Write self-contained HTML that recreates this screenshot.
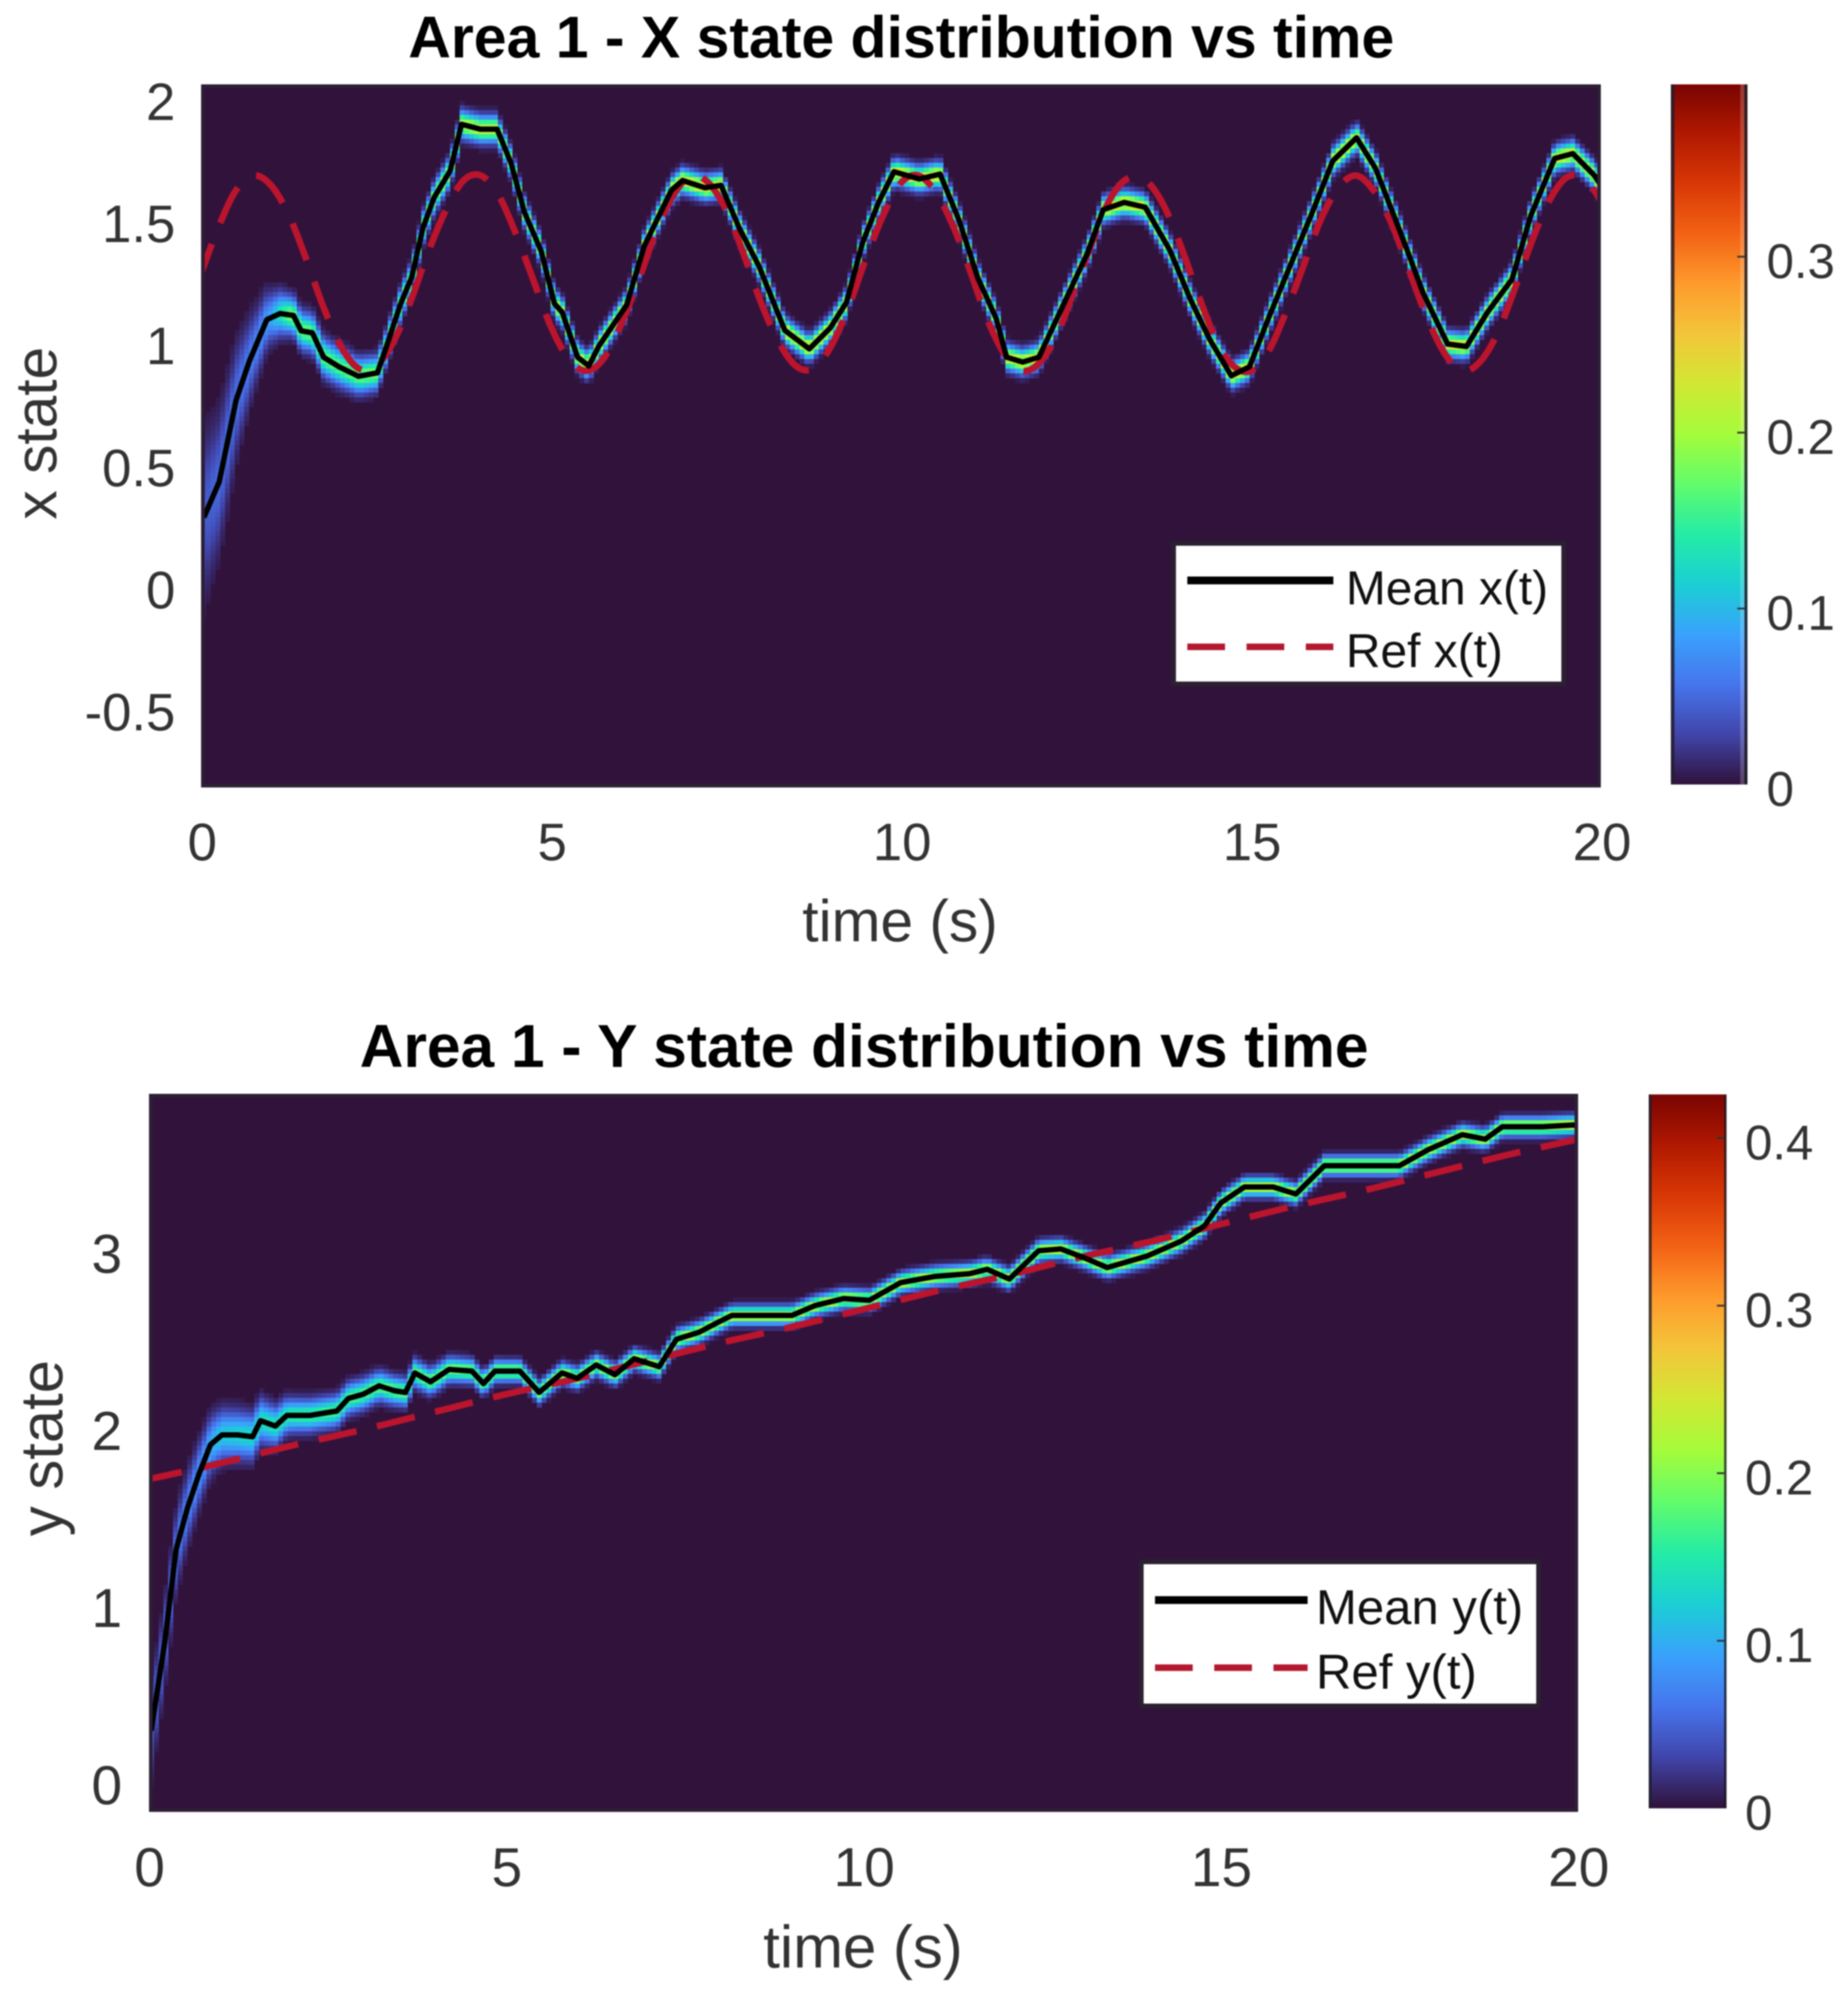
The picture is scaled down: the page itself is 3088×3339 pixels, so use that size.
<!DOCTYPE html>
<html>
<head>
<meta charset="utf-8">
<title>Area 1 state distributions</title>
<style>
html,body{margin:0;padding:0;background:#fff;}
svg{display:block;filter:blur(1.1px);}
text{font-family:"Liberation Sans",Arial,sans-serif;}
.tick{font-size:90px;fill:#333;}
.cb{font-size:82px;fill:#333;}
.lab{font-size:98px;fill:#333;}
.title{font-size:98.5px;font-weight:bold;fill:#000;}
.leg{font-size:80px;fill:#111;}
</style>
</head>
<body>
<svg id="fig" xmlns="http://www.w3.org/2000/svg" width="3088" height="3339" viewBox="0 0 3088 3339">
  <defs>
    <clipPath id="clipX"><rect x="336" y="141" width="2339" height="1175"/></clipPath>
    <clipPath id="clipY"><rect x="249" y="1828" width="2388" height="1200"/></clipPath>
    <linearGradient id="turboGrad" x1="0" y1="1" x2="0" y2="0"></linearGradient>
  </defs>
  <rect x="0" y="0" width="3088" height="3339" fill="#fff"/>

  <text class="title" x="1506" y="96" text-anchor="middle">Area 1 - X state distribution vs time</text>
  <rect x="336" y="141" width="2339" height="1175" fill="#31123b"/>
  <g id="cellsX" clip-path="url(#clipX)"></g>
  <g id="linesX" clip-path="url(#clipX)"></g>
  <rect x="339" y="144" width="2333" height="1169" fill="none" stroke="#2c1f34" stroke-width="6"/>
  <g id="ticksX"></g>
  <text class="lab" x="1504" y="1573" text-anchor="middle">time (s)</text>
  <text class="lab" transform="translate(94 724) rotate(-90)" text-anchor="middle">x state</text>

  <g>
    <rect x="1961" y="908" width="652" height="235" fill="#fff" stroke="#2a2030" stroke-width="8"/>
    <line x1="1984" y1="970" x2="2228" y2="970" stroke="#000" stroke-width="13"/>
    <line x1="1984" y1="1081" x2="2228" y2="1081" stroke="#b4182f" stroke-width="11" stroke-dasharray="63 36"/>
    <text class="leg" x="2249" y="1010">Mean x(t)</text>
    <text class="leg" x="2249" y="1115">Ref x(t)</text>
  </g>

  <rect x="2792" y="141" width="128" height="1170" fill="url(#turboGrad)"/>
  <rect x="2792" y="141" width="6" height="1170" fill="#231f2b" opacity="0.85"/>
  <rect x="2908" y="141" width="7" height="1170" fill="#fff" opacity="0.2"/>
  <rect x="2915" y="141" width="5" height="1170" fill="#1a1a22" opacity="0.85"/>
  <g id="cbX"></g>

  <text class="title" x="1444" y="1783" text-anchor="middle" style="font-size:101px">Area 1 - Y state distribution vs time</text>
  <rect x="249" y="1828" width="2388" height="1200" fill="#31123b"/>
  <g id="cellsY" clip-path="url(#clipY)"></g>
  <g id="linesY" clip-path="url(#clipY)"></g>
  <rect x="252" y="1831" width="2382" height="1194" fill="none" stroke="#2c1f34" stroke-width="6"/>
  <g id="ticksY"></g>
  <text class="lab" x="1442" y="3288" text-anchor="middle" style="font-size:100px">time (s)</text>
  <text class="lab" transform="translate(104 2420) rotate(-90)" text-anchor="middle" style="font-size:100px">y state</text>

  <g>
    <rect x="1907" y="2610" width="664" height="241" fill="#fff" stroke="#2a2030" stroke-width="8"/>
    <line x1="1930" y1="2674" x2="2185" y2="2674" stroke="#000" stroke-width="13"/>
    <line x1="1930" y1="2787" x2="2185" y2="2787" stroke="#b4182f" stroke-width="11" stroke-dasharray="63 36"/>
    <text class="leg" x="2199" y="2714" style="font-size:82px">Mean y(t)</text>
    <text class="leg" x="2199" y="2822" style="font-size:82px">Ref y(t)</text>
  </g>

  <rect x="2755" y="1829" width="130" height="1193" fill="url(#turboGrad)"/>
  <rect x="2755" y="1829" width="5" height="1193" fill="#1c1f2b" opacity="0.8"/>
  <rect x="2881" y="1829" width="4" height="1193" fill="#1a1a22" opacity="0.8"/>
  <g id="cbY"></g>
</svg>
<script>
const turboStops = ['#30123b','#4145ab','#4675ed','#39a2fc','#1bcfd4','#24eca6','#61fc6c','#a4fc3b','#d1e834','#f3c63a','#fe9b2d','#f36315','#d93806','#b11901','#7a0402'];

const xTickLabels = ['0','5','10','15','20'];
const xTickValues = [0,5,10,15,20];

const xChartYTicks = [2,1.5,1,0.5,0,-0.5];
const xChartYLabels = ['2','1.5','1','0.5','0','-0.5'];
const yChartYTicks = [3,2,1,0];
const yChartYLabels = ['3','2','1','0'];

const xColorbarTicks = [0,0.1,0.2,0.3];
const xColorbarLabels = ['0','0.1','0.2','0.3'];
const yColorbarTicks = [0,0.1,0.2,0.3,0.4];
const yColorbarLabels = ['0','0.1','0.2','0.3','0.4'];

const meanXTimes = [0.04,0.26,0.5,0.69,0.94,1.13,1.32,1.43,1.59,1.75,1.97,2.25,2.52,2.66,2.85,3.01,3.17,3.33,3.56,3.72,3.99,4.23,4.43,4.62,4.86,5.05,5.16,5.38,5.54,5.68,6.08,6.33,6.72,6.88,7.2,7.43,7.69,7.97,8.34,8.69,8.99,9.22,9.45,9.68,9.9,10.26,10.56,10.83,11.1,11.36,11.51,11.74,11.97,12.27,12.66,12.89,13.19,13.49,13.84,14.14,14.41,14.72,14.98,15.25,15.56,15.86,16.17,16.51,16.78,17.16,17.46,17.81,18.08,18.38,18.73,19.0,19.34,19.6,19.91,20];
const meanXValues = [0.30,0.446,0.78,0.94,1.11,1.135,1.127,1.064,1.056,0.956,0.917,0.878,0.892,1.01,1.174,1.284,1.485,1.61,1.72,1.91,1.89,1.89,1.75,1.55,1.39,1.175,1.14,0.956,0.92,1.0,1.17,1.41,1.64,1.68,1.65,1.66,1.485,1.33,1.066,0.99,1.076,1.18,1.424,1.59,1.716,1.686,1.706,1.517,1.28,1.115,0.956,0.936,0.956,1.14,1.38,1.56,1.59,1.57,1.395,1.19,1.03,0.88,0.917,1.115,1.33,1.537,1.76,1.855,1.73,1.45,1.22,1.01,1.0,1.14,1.275,1.537,1.77,1.79,1.70,1.66];

const refXValues = [1.30,1.49,1.64,1.70,1.66,1.54,1.36,1.16,1.00,0.91,0.92,1.02,1.19,1.39,1.56,1.68,1.70,1.62,1.46,1.27,1.08,0.95,0.90,0.95,1.09,1.27,1.47,1.62,1.70,1.67,1.56,1.38,1.18,1.02,0.92,0.91,1.00,1.16,1.36,1.54,1.67,1.70,1.63,1.49,1.30,1.10,0.96,0.90,0.94,1.06,1.25,1.44,1.61,1.69,1.68,1.58,1.41,1.21,1.03,0.92,0.90,0.98,1.14,1.33,1.52,1.65,1.70,1.64,1.51,1.32,1.13,0.98,0.90,0.93,1.04,1.22,1.42,1.59,1.69,1.69,1.60];
const refXStep = 0.25;

const densityXTimes = [0,0.25,0.5,0.75,1,1.25,2,3,4,6,20];
const densityXSpread = [0.20,0.16,0.13,0.09,0.06,0.045,0.045,0.035,0.033,0.03,0.03];
const densityXPeak = [0.04,0.05,0.055,0.065,0.09,0.18,0.17,0.20,0.22,0.24,0.24];

const meanYTimes = [0.03,0.22,0.38,0.54,0.70,0.86,1.02,1.24,1.45,1.56,1.77,1.93,2.25,2.63,2.79,3.0,3.22,3.43,3.59,3.72,3.94,4.2,4.52,4.68,4.84,5.19,5.46,5.78,5.99,6.26,6.52,6.79,7.14,7.38,7.7,7.96,8.16,9.0,9.32,9.72,10.08,10.52,11.0,11.48,11.73,12.04,12.45,12.76,13.09,13.41,13.97,14.45,14.77,15.0,15.33,15.73,16.05,16.45,16.85,17.5,17.9,18.38,18.7,18.94,19.5,19.94,20];
const meanYValues = [0.33,0.83,1.355,1.59,1.78,1.945,2.0,2.0,1.99,2.08,2.05,2.11,2.11,2.135,2.206,2.23,2.277,2.25,2.24,2.35,2.30,2.37,2.36,2.29,2.36,2.36,2.24,2.35,2.32,2.395,2.34,2.43,2.385,2.54,2.58,2.635,2.675,2.675,2.73,2.77,2.76,2.86,2.895,2.91,2.935,2.88,3.04,3.05,3.0,2.945,3.01,3.095,3.18,3.31,3.4,3.4,3.36,3.52,3.52,3.52,3.61,3.695,3.67,3.74,3.74,3.75,3.74];

const refYValues = [1.75,1.84,1.94,2.03,2.13,2.23,2.32,2.42,2.52,2.61,2.71,2.81,2.90,3.00,3.09,3.19,3.29,3.38,3.48,3.58,3.67];
const refYStep = 1;

const densityYTimes = [0,0.25,0.5,0.75,1,1.5,2,3,5,8,20];
const densityYSpread = [0.15,0.13,0.12,0.10,0.085,0.075,0.055,0.05,0.035,0.032,0.032];
const densityYPeak = [0.05,0.06,0.07,0.09,0.12,0.14,0.16,0.18,0.21,0.24,0.24];

const NS = 'http://www.w3.org/2000/svg';
function el(parent, tag, attrs, text) {
  const e = document.createElementNS(NS, tag);
  for (const k in attrs) e.setAttribute(k, attrs[k]);
  if (text !== undefined) e.textContent = text;
  parent.appendChild(e);
  return e;
}
function hex(c){return [parseInt(c.slice(1,3),16),parseInt(c.slice(3,5),16),parseInt(c.slice(5,7),16)];}
function turbo(f){
  f = Math.max(0,Math.min(1,f));
  const p = f*(turboStops.length-1), i = Math.min(Math.floor(p),turboStops.length-2), a = hex(turboStops[i]), b = hex(turboStops[i+1]), u = p-i;
  return 'rgb('+a.map((v,j)=>Math.round(v+(b[j]-v)*u)).join(',')+')';
}
function interp(xs, ys, x){
  if (x <= xs[0]) return ys[0];
  for (let i=1;i<xs.length;i++) if (x <= xs[i]) return ys[i-1]+(ys[i]-ys[i-1])*(x-xs[i-1])/(xs[i]-xs[i-1]);
  return ys[ys.length-1];
}
function smoothPath(pts){
  let d = 'M'+pts[0][0].toFixed(1)+' '+pts[0][1].toFixed(1);
  for (let i=0;i<pts.length-1;i++){
    const p0 = pts[Math.max(i-1,0)], p1 = pts[i], p2 = pts[i+1], p3 = pts[Math.min(i+2,pts.length-1)];
    const c1x = p1[0]+(p2[0]-p0[0])/6, c1y = p1[1]+(p2[1]-p0[1])/6;
    const c2x = p2[0]-(p3[0]-p1[0])/6, c2y = p2[1]-(p3[1]-p1[1])/6;
    d += ' C'+c1x.toFixed(1)+' '+c1y.toFixed(1)+' '+c2x.toFixed(1)+' '+c2y.toFixed(1)+' '+p2[0].toFixed(1)+' '+p2[1].toFixed(1);
  }
  return d;
}

const grad = document.getElementById('turboGrad');
turboStops.forEach((c,i)=>{
  el(grad,'stop',{offset:(i/(turboStops.length-1)),'stop-color':c});
});

const chartX = {
  sx:t=>336+t*116.95, sy:v=>171+(2-v)*408,
  labelShift:-2, xLabelShift:2, cmax:0.398, cells:'cellsX', lines:'linesX', ticks:'ticksX',
  meanT:meanXTimes, meanV:meanXValues, refV:refXValues, refStep:refXStep,
  dT:densityXTimes, dS:densityXSpread, dP:densityXPeak,
  yTicks:xChartYTicks, yLabels:xChartYLabels, yRight:293, xLabelY:1406, fs:88,
  dash:'66 38', dashOffset:14,
  left:336, bottom:1316, top:141, right:2675, prefix:'x'
};
const chartY = {
  sx:t=>249+t*119.4, sy:v=>2990-v*296,
  labelShift:-8, xLabelShift:1, cmax:0.43, cells:'cellsY', lines:'linesY', ticks:'ticksY',
  meanT:meanYTimes, meanV:meanYValues, refV:refYValues, refStep:refYStep,
  dT:densityYTimes, dS:densityYSpread, dP:densityYPeak,
  yTicks:yChartYTicks, yLabels:yChartYLabels, yRight:204, xLabelY:3119, fs:92,
  dash:'65 35', dashOffset:9,
  left:249, bottom:3028, top:1828, right:2637, prefix:'y'
};

function drawChart(c){
  const cellG = document.getElementById(c.cells);
  const cw = 8, ch = 8;
  for (let px = c.left; px < c.right; px += cw) {
    const t = (px + cw/2 - c.sx(0)) / (c.sx(1) - c.sx(0));
    const m = interp(c.meanT, c.meanV, t);
    const s = interp(c.dT, c.dS, t);
    const p = interp(c.dT, c.dP, t);
    const cy = c.sy(m);
    const sp = Math.abs(c.sy(0) - c.sy(s));
    const r0 = Math.floor((cy - 3.2*sp)/ch), r1 = Math.ceil((cy + 3.2*sp)/ch);
    for (let r = r0; r <= r1; r++) {
      const y = r*ch, d = (y + ch/2 - cy)/sp;
      const val = p*Math.exp(-0.5*d*d);
      if (val/c.cmax < 0.012) continue;
      const cell = el(cellG,'rect',{x:px,y:y,width:cw+0.5,height:ch+0.5,fill:turbo(val/c.cmax)});
      
      
    }
  }
  const lineG = document.getElementById(c.lines);
  const refPts = c.refV.map((v,i)=>[c.sx(i*c.refStep), c.sy(v)]);
  const ref = el(lineG,'path',{d:smoothPath(refPts),fill:'none',stroke:'#bb142d','stroke-width':11,'stroke-dasharray':c.dash,'stroke-dashoffset':c.dashOffset});
  
  
  const meanPts = c.meanT.map((t,i)=>c.sx(t).toFixed(1)+','+c.sy(c.meanV[i]).toFixed(1)).join(' ');
  const mean = el(lineG,'polyline',{points:meanPts,fill:'none',stroke:'#000','stroke-width':9,'stroke-linejoin':'round'});
  
  

  const tickG = document.getElementById(c.ticks);
  xTickValues.forEach((t,i)=>{
    const tx = el(tickG,'text',{class:'tick',x:c.sx(t)+c.xLabelShift,y:c.xLabelY+0.358*c.fs,'text-anchor':'middle',style:'font-size:'+c.fs+'px'},xTickLabels[i]);
    
    
  });
  c.yTicks.forEach((v,i)=>{
    const yc = c.sy(v)+c.labelShift;
    const tx = el(tickG,'text',{class:'tick',x:c.yRight,y:yc+0.358*c.fs,'text-anchor':'end',style:'font-size:'+c.fs+'px'},c.yLabels[i]);
    
    
  });
}
drawChart(chartX);
drawChart(chartY);

function drawColorbar(id, ticks, labels, y0, perUnit, tx, x1, fs, labelShift){
  const g = document.getElementById(id);
  ticks.forEach((v,i)=>{
    const y = y0 - v*perUnit;
    if (v > 0) {
      const m = el(g,'line',{x1:x1-12,x2:x1,y1:y,y2:y,stroke:'#333','stroke-width':3});
      
      
    }
    const t = el(g,'text',{class:'cb',x:tx,y:y+labelShift+0.358*fs,style:'font-size:'+fs+'px'},labels[i]);
    
    
  });
}
drawColorbar('cbX', xColorbarTicks, xColorbarLabels, 1311, 2940, 2952, 2915, 82, 6);
drawColorbar('cbY', yColorbarTicks, yColorbarLabels, 3022, 2800, 2916, 2881, 82, 6);
</script>
</body>
</html>
